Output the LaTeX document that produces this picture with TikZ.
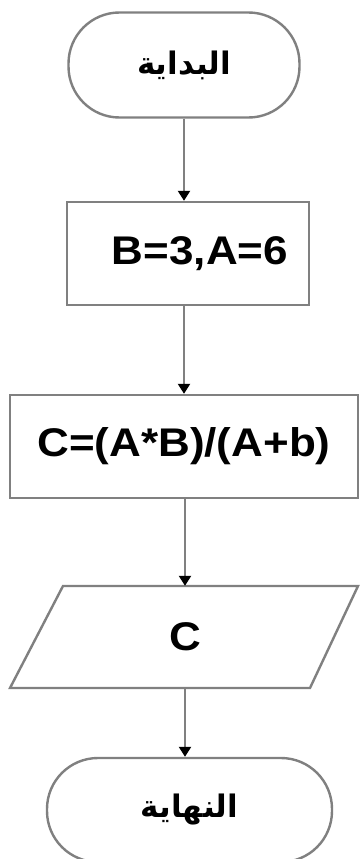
\documentclass[tikz,border=0pt]{standalone}
\usepackage{fontspec}
\setmainfont{Liberation Sans}
\newfontfamily\widefont[FakeStretch=1.1]{Liberation Sans}
\newfontfamily\arabicfont[Script=Arabic]{DejaVu Sans}
\TeXXeTstate=1
\usetikzlibrary{arrows.meta}
\definecolor{edgegray}{HTML}{808080}
\tikzset{
  shapeline/.style={draw=edgegray, line width=2.4pt},
  terminal/.style={shapeline, rectangle, rounded corners=51pt, inner sep=0pt},
  procbox/.style={shapeline, rectangle, inner sep=0pt},
  latin/.style={font=\fontsize{40}{40}\widefont\bfseries},
  arabic/.style={font=\fontsize{31}{31}\arabicfont\bfseries},
  flow/.style={draw=edgegray, line width=2.2pt,
    -{Triangle[color=black, width=12pt, length=10pt]}}
}
\begin{document}
\begin{tikzpicture}[x=1pt, y=-1pt]
  \fill[white] (0,0) rectangle (360,859);
  \clip (0,0) rectangle (360,859);

  % start / end terminals
  \node[terminal, minimum width=231pt, minimum height=105pt, arabic]
    (start) at (184,65) {\beginR البداية\endR};

  % assignments
  \node[procbox, minimum width=242pt, minimum height=103pt, latin]
    (assign) at (188,253.5) {\hspace{24pt}B=3,A=6};

  % computation
  \node[procbox, minimum width=348pt, minimum height=103pt, latin]
    (calc) at (184,446.5) {C=(A*B)/(A+b)};

  % output parallelogram
  \draw[shapeline] (63,586) -- (358,586) -- (310,688) -- (10,688) -- cycle;
  \node[rectangle, inner sep=0pt, minimum width=200pt, minimum height=102pt, latin]
    (out) at (185,637) {C};

  \node[terminal, minimum width=285pt, minimum height=104pt, arabic]
    (stop) at (189.5,810) {\beginR النهاية\endR};

  % connectors
  \draw[flow] (start.south) -- (start.south |- assign.north);
  \draw[flow] (assign.south -| start.south) -- (start.south |- calc.north);
  \draw[flow] (calc.south -| out.north) -- (out.north);
  \draw[flow] (out.south) -- (out.south |- stop.north);
\end{tikzpicture}
\end{document}
